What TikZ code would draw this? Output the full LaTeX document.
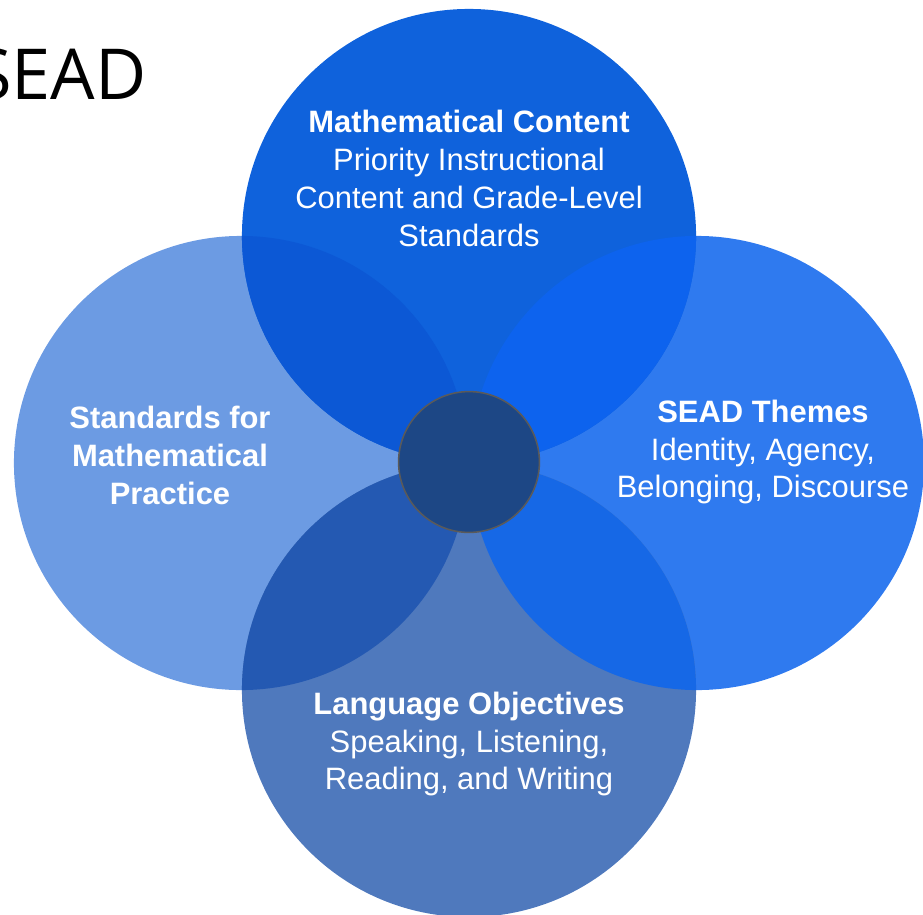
\documentclass[tikz,border=0pt]{standalone}
\usepackage{fontspec}
\setmainfont{Liberation Sans}
\newfontfamily\titlefont{Open Sans}
\usepackage{xcolor}
\usetikzlibrary{positioning}
\definecolor{ContentBlue}{HTML}{0F62DC}
\definecolor{PracticeBlue}{HTML}{6C9BE3}
\definecolor{ThemeBlue}{HTML}{2F7AEF}
\definecolor{LanguageBlue}{HTML}{4F79BD}
\definecolor{ContentPractice}{HTML}{0C58D5}
\definecolor{ContentTheme}{HTML}{0D63EE}
\definecolor{LanguagePractice}{HTML}{2459B2}
\definecolor{LanguageTheme}{HTML}{1668E6}
\definecolor{CoreBlue}{HTML}{1D4785}
\definecolor{CoreRim}{HTML}{5A5A5A}

\begin{document}
\begin{tikzpicture}[
    x=0.025cm, y=-0.025cm,
    petal/.style={circle, minimum size=11.35cm, inner sep=0pt},
    petaltext/.style={text=white, align=center, font=\fontsize{22}{27}\selectfont}
  ]
    \useasboundingbox (0,0) rectangle (923,915);
    \clip (0,0) rectangle (923,915);

    \node[anchor=base east, inner sep=0pt, font=\titlefont\fontsize{50}{60}\selectfont] (title) at (147,99) {SEAD};

    \node[petal, fill=PracticeBlue] (practice) at (241,463) {};
    \node[petal, fill=ThemeBlue] (themes) at (697,463) {};
    \node[petal, fill=LanguageBlue] (language) at (469,690) {};
    \node[petal, fill=ContentBlue] (content) at (469,236) {};

    % overlaps
    \begin{scope}
      \clip (content.center) circle (5.675cm);
      \fill[ContentPractice] (practice.center) circle (5.675cm);
      \fill[ContentTheme] (themes.center) circle (5.675cm);
    \end{scope}
    \begin{scope}
      \clip (language.center) circle (5.675cm);
      \fill[LanguagePractice] (practice.center) circle (5.675cm);
      \fill[LanguageTheme] (themes.center) circle (5.675cm);
    \end{scope}

    \node[
      circle,
      minimum size=3.52cm,
      fill=CoreBlue,
      draw=CoreRim,
      line width=1.1pt
    ] (core) at (469,462) {};

    \node[petaltext] (contenttext) at (469,178) {
      \textbf{Mathematical Content}\\
      Priority Instructional\\
      Content and Grade-Level\\
      Standards
    };
    \node[petaltext] (practicetext) at (170,455) {
      \textbf{Standards for}\\
      \textbf{Mathematical}\\
      \textbf{Practice}
    };
    \node[petaltext] (themestext) at (763,452) {
      \textbf{SEAD Themes}\\
      Identity, Agency,\\
      Belonging, Discourse
    };
    \node[petaltext] (languagetext) at (469,744) {
      \textbf{Language Objectives}\\
      Speaking, Listening,\\
      Reading, and Writing
    };
  \end{tikzpicture}
\end{document}
